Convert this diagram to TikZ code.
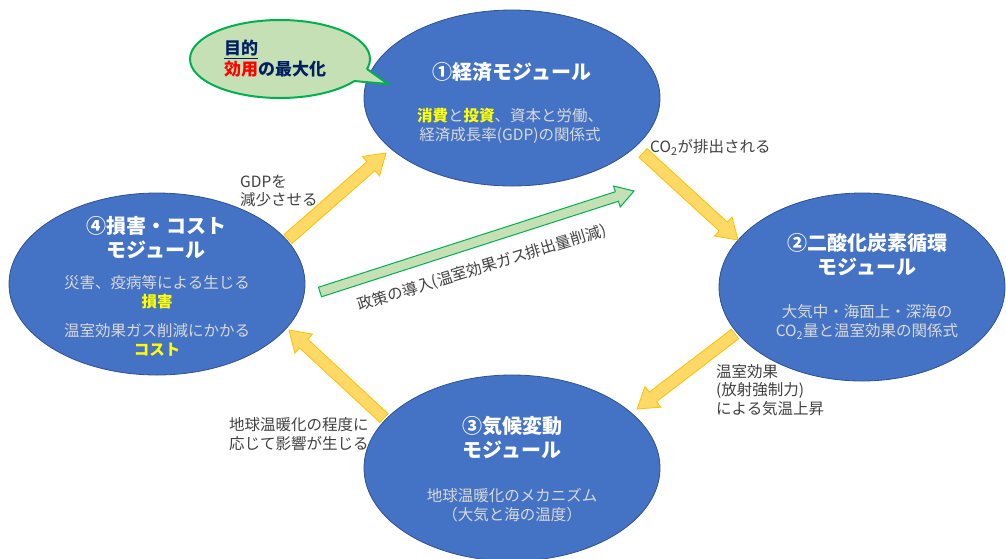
\documentclass[tikz,border=0pt]{standalone}
\usepackage{fontspec}
\setmainfont{Noto Sans CJK JP}
\usetikzlibrary{shapes.geometric,calc}
\definecolor{ellfill}{HTML}{4472C4}
\definecolor{elldraw}{HTML}{2F528F}
\definecolor{bodytxt}{HTML}{D9D9D9}
\definecolor{yel}{HTML}{FFFF00}
\definecolor{arrfill}{HTML}{FFD966}
\definecolor{arrdraw}{HTML}{FFC000}
\definecolor{grfill}{HTML}{C5E0B4}
\definecolor{grdraw}{HTML}{00B050}
\definecolor{navy}{HTML}{002060}
\definecolor{lbl}{HTML}{404040}
\newcommand\blockarr[6]{%
  \coordinate (baH) at ($(#2)!#5!(#1)$);
  \path[#6] ($(#1)!#3!90:(#2)$) -- ($(baH)!#3!90:(#2)$) -- ($(baH)!#4!90:(#2)$) -- (#2)
    -- ($(baH)!#4!-90:(#2)$) -- ($(baH)!#3!-90:(#2)$) -- ($(#1)!#3!-90:(#2)$) -- cycle;
}
\tikzset{
  module/.style={ellipse, fill=ellfill, draw=elldraw, line width=0.8pt, inner sep=0pt},
  title/.style={align=center, text=white, font=\fontsize{20}{24}\selectfont\bfseries},
  body/.style={align=center, text=bodytxt, font=\fontsize{15.5}{18.5}\selectfont},
  lab/.style={align=left, anchor=west, text=lbl, inner sep=0pt, font=\fontsize{15.5}{18.5}\selectfont},
  yarrow/.style={fill=arrfill, draw=arrdraw, line width=0.8pt, line join=miter},
  garrow/.style={fill=grfill, draw=grdraw, line width=1pt, line join=miter},
}
\begin{document}
\begin{tikzpicture}[x=1pt,y=-1pt]
\useasboundingbox (0,0) rectangle (1006,558);
\clip (0,0) rectangle (1006,558);
% modules
\node[module, minimum width=296pt, minimum height=176pt] (eco) at (512,98) {};
\node[module, minimum width=286pt, minimum height=188pt] (carb) at (862,287) {};
\node[module, minimum width=296pt, minimum height=186pt] (clim) at (512,468) {};
\node[module, minimum width=296pt, minimum height=182pt] (dmg) at (157,284) {};
% texts in modules
\node[title] (ecoT) at (512,72) {①経済モジュール};
\node[body] (ecoB) at (510,126) {{\color{yel}\bfseries 消費}と{\color{yel}\bfseries 投資}、資本と労働、\\経済成長率(GDP)の関係式};
\node[title] (carbT) at (867,255) {②二酸化炭素循環\\モジュール};
\node[body] (carbB) at (867,322) {大気中・海面上・深海の\\CO\textsubscript{2}量と温室効果の関係式};
\node[title] (climT) at (512,438) {③気候変動\\モジュール};
\node[body] (climB) at (512,505) {地球温暖化のメカニズム\\（大気と海の温度）};
\node[title] (dmgT) at (156,238) {④損害・コスト\\モジュール};
\node[body] (dmgB1) at (157,292) {災害、疫病等による生じる\\{\color{yel}\bfseries 損害}};
\node[body] (dmgB2) at (157,340) {温室効果ガス削減にかかる\\{\color{yel}\bfseries コスト}};
% speech bubble
\node[ellipse, fill=grfill, draw=grdraw, line width=2pt, minimum width=180pt, minimum height=78pt] (bub) at (280,59) {};
\coordinate (tb1) at (367,69);
\coordinate (tb2) at (354,81);
\coordinate (ttip) at (388,84);
\coordinate (tin) at (345,66);
\fill[grfill] (tb1) -- (ttip) -- (tb2) -- (tin) -- cycle;
\draw[grdraw, line width=2pt, line join=miter] (tb1) -- (ttip) -- (tb2);
\node[anchor=west, align=left, inner sep=0pt, font=\fontsize{17}{21}\selectfont\bfseries] (goal) at (224,59)
  {\color{navy}\underline{目的}\\{\color{red}効用}\color{navy}の最大化};
% yellow arrows
\coordinate (aS) at (288,239); \coordinate (aE) at (386,153);
\coordinate (bS) at (643,153); \coordinate (bE) at (738,240);
\coordinate (cS) at (735,334); \coordinate (cE) at (637,409);
\coordinate (dS) at (384,418); \coordinate (dE) at (289,330);
\blockarr{aS}{aE}{6pt}{13pt}{20pt}{yarrow}
\blockarr{bS}{bE}{6pt}{13pt}{20pt}{yarrow}
\blockarr{cS}{cE}{6pt}{13pt}{20pt}{yarrow}
\blockarr{dS}{dE}{6pt}{13pt}{20pt}{yarrow}
% green arrow
\coordinate (gS) at (320,292); \coordinate (gE) at (634,191);
\blockarr{gS}{gE}{5pt}{11pt}{18pt}{garrow}
\node[text=lbl, rotate=17, inner sep=0pt, font=\fontsize{15.5}{18}\selectfont] (pol) at (482,268) {政策の導入(温室効果ガス排出量削減)};
% labels
\node[lab] (l1) at (240,191) {GDPを\\減少させる};
\node[lab] (l2) at (650,147) {CO\textsubscript{2}が排出される};
\node[lab] (l3) at (716,390) {温室効果\\(放射強制力)\\による気温上昇};
\node[lab] (l4) at (229,434) {地球温暖化の程度に\\応じて影響が生じる};
\end{tikzpicture}
\end{document}
